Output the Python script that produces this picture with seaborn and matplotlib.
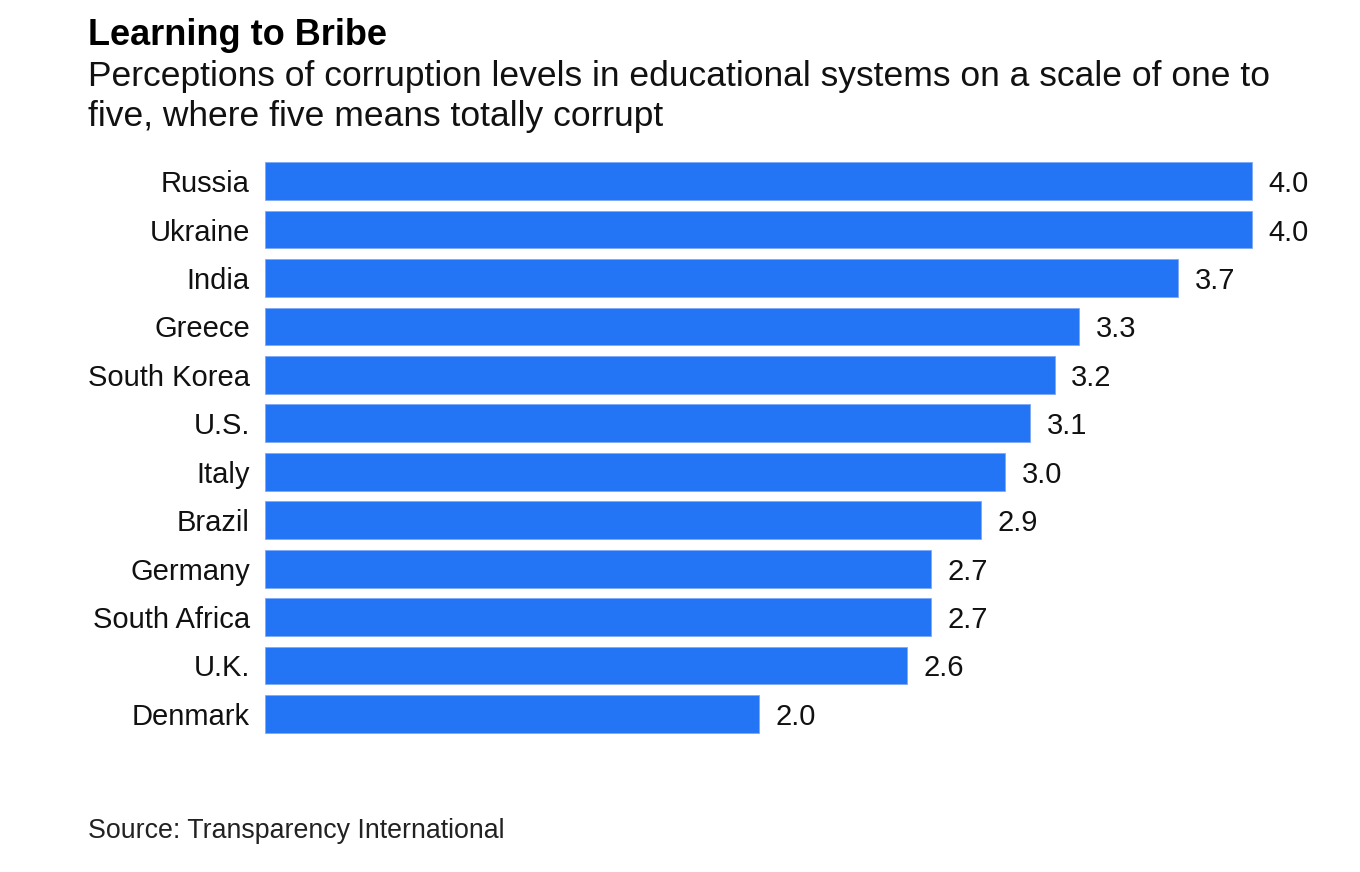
import matplotlib
matplotlib.use('Agg')
import matplotlib.pyplot as plt
import seaborn as sns
import pandas as pd

countries = ['Russia', 'Ukraine', 'India', 'Greece', 'South Korea', 'U.S.', 'Italy',
             'Brazil', 'Germany', 'South Africa', 'U.K.', 'Denmark']
scores = [4.0, 4.0, 3.7, 3.3, 3.2, 3.1, 3.0, 2.9, 2.7, 2.7, 2.6, 2.0]

title = 'Learning to Bribe'
subtitle_1 = 'Perceptions of corruption levels in educational systems on a scale of one to'
subtitle_2 = 'five, where five means totally corrupt'
source = 'Source: Transparency International'

sns.set_style('white')
plt.rcParams['font.family'] = ['Liberation Sans', 'DejaVu Sans']

df = pd.DataFrame({'country': countries, 'score': scores})

fig = plt.figure(figsize=(13.6, 8.72), dpi=100)
ax = fig.add_axes([0.1949, 0.1535, 0.762, 0.6665])
sns.barplot(data=df, x='score', y='country', color='#2475f6', saturation=1,
            width=0.78, ax=ax, edgecolor='#7fa9f7', linewidth=0.6)

ax.set_xlim(0, 4.2)
ax.set_ylim(11.5, -0.5)
ax.set_xlabel('')
ax.set_ylabel('')
ax.set_xticks([])
ax.tick_params(axis='y', length=0, pad=11, labelsize=21, labelcolor='#111111')
for s in ax.spines.values():
    s.set_visible(False)

labels = ax.bar_label(ax.containers[0], fmt='%.1f', padding=12, fontsize=21, color='#111111')
for t in labels:
    t.set_va('center_baseline')

x0 = 0.0647
fig.text(x0, 1 - 45 / 872, title, fontsize=26, fontweight='bold', color='black', va='baseline')
fig.text(x0, 1 - 86 / 872, subtitle_1, fontsize=25.5, color='#111111', va='baseline')
fig.text(x0, 1 - 126 / 872, subtitle_2, fontsize=25.5, color='#111111', va='baseline')
fig.text(x0, 1 - 838 / 872, source, fontsize=19.3, color='#222222', va='baseline')

fig.savefig('out.png', dpi=100, facecolor='white')
